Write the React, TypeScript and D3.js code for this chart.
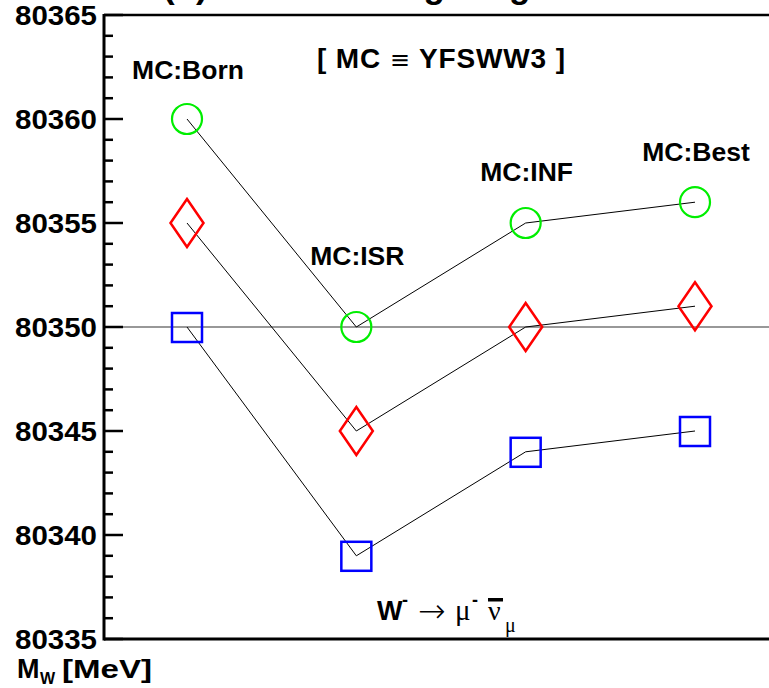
import React from "react";
import * as d3 from "d3";

const categories = ["MC:Born", "MC:ISR", "MC:INF", "MC:Best"];
const circleSeries = [80360, 80350, 80355, 80356];
const diamondSeries = [80355, 80345, 80350, 80351];
const squareSeries = [80350, 80339, 80344, 80345];
const yTicksMajor = [80335, 80340, 80345, 80350, 80355, 80360, 80365];
const labelValues = [80361.9, 80353.0, 80357.0, 80358.0];
const refValue = 80350;

const W = 769;
const H = 688;
const FONT = "'Liberation Sans', Arial, Helvetica, sans-serif";
const SERIF = "'Liberation Serif', 'Times New Roman', serif";

export default function App() {
  const y = d3.scaleLinear().domain([80335, 80365]).range([639, 15]);
  const x = d3.scaleLinear().domain([0, 3]).range([187, 695]);
  const axisX = 104;
  const rightEdge = 790;
  const minorTicks = d3.range(80335, 80366, 1).filter((v) => v % 5 !== 0);
  const line = d3
    .line<number>()
    .x((_, i) => x(i))
    .y((d) => y(d));
  const diamond = (cx: number, cy: number) =>
    `M${cx},${cy - 24}L${cx + 16.5},${cy}L${cx},${cy + 24}L${cx - 16.5},${cy}Z`;

  return (
    <svg
      width={W}
      height={H}
      style={{ position: "absolute", left: 0, top: 0, background: "#fff" }}
      fontFamily={FONT}
    >
      <rect x={0} y={0} width={W} height={H} fill="#fff" />
      {/* title, cut off at the top edge as in the reference */}
      <text x={163} y={-2} fontSize={35} fontWeight="bold" fill="#000">
        (b) Effect of weighting
      </text>

      {/* reference line */}
      <line x1={axisX} x2={rightEdge} y1={y(refValue)} y2={y(refValue)} stroke="#333" strokeWidth={1.2} />

      {/* axes */}
      <line x1={axisX} x2={rightEdge} y1={y(80365)} y2={y(80365)} stroke="#000" strokeWidth={2.5} />
      <line x1={axisX} x2={rightEdge} y1={y(80335)} y2={y(80335)} stroke="#000" strokeWidth={3} />
      <line x1={axisX} x2={axisX} y1={y(80365) - 1} y2={y(80335) + 1.5} stroke="#000" strokeWidth={3} />
      {yTicksMajor.map((v) => (
        <line key={"M" + v} x1={axisX} x2={axisX + 19} y1={y(v)} y2={y(v)} stroke="#000" strokeWidth={2.5} />
      ))}
      {minorTicks.map((v) => (
        <line key={"m" + v} x1={axisX} x2={axisX + 9} y1={y(v)} y2={y(v)} stroke="#000" strokeWidth={2.5} />
      ))}
      {yTicksMajor.map((v) => (
        <text
          key={"t" + v}
          x={97}
          y={y(v)}
          dy="0.36em"
          textAnchor="end"
          fontSize={28}
          fontWeight="bold"
          textLength={82}
          lengthAdjust="spacingAndGlyphs"
        >
          {v}
        </text>
      ))}

      {/* connecting lines */}
      {[circleSeries, diamondSeries, squareSeries].map((s, k) => (
        <path key={"l" + k} d={line(s) || ""} fill="none" stroke="#000" strokeWidth={1} />
      ))}

      {/* markers */}
      {circleSeries.map((v, i) => (
        <circle key={"c" + i} cx={x(i)} cy={y(v)} r={15} fill="none" stroke="#00ee00" strokeWidth={2.2} />
      ))}
      {diamondSeries.map((v, i) => (
        <path key={"d" + i} d={diamond(x(i), y(v))} fill="none" stroke="#ff0000" strokeWidth={2.5} />
      ))}
      {squareSeries.map((v, i) => (
        <rect
          key={"s" + i}
          x={x(i) - 15}
          y={y(v) - 14}
          width={30}
          height={29}
          fill="none"
          stroke="#0000ff"
          strokeWidth={2.5}
        />
      ))}

      {/* category labels */}
      {categories.map((c, i) => (
        <text key={"cat" + i} x={x(i) + 1} y={y(labelValues[i])} textAnchor="middle" fontSize={26.5} fontWeight="bold">
          {c}
        </text>
      ))}

      {/* MC identity */}
      <text x={441} y={68} textAnchor="middle" fontSize={28} fontWeight="bold" textLength={248} lengthAdjust="spacing">
        {"[ MC "}
        <tspan fontWeight="normal" fontFamily="'DejaVu Sans', sans-serif" fontSize={24}>≡</tspan>
        {" YFSWW3 ]"}
      </text>

      {/* decay channel */}
      <text x={377} y={620} fontSize={27} fontWeight="bold">W</text>
      <text x={402} y={606} fontSize={18} fontWeight="bold">-</text>
      <text x={418} y={622} fontSize={33} fontFamily="'DejaVu Sans', sans-serif" fontWeight={200}>→</text>
      <text x={455} y={620} fontSize={29} fontFamily={SERIF}>μ</text>
      <text x={472} y={606} fontSize={18} fontWeight="bold">-</text>
      <text x={488} y={620} fontSize={28} fontFamily={SERIF}>ν</text>
      <rect x={488} y={598} width={15} height={3.5} fill="#000" />
      <text x={505} y={632} fontSize={20} fontFamily={SERIF}>μ</text>

      {/* y axis title */}
      <text x={17} y={678} fontSize={27} fontWeight="bold">M</text>
      <text x={40} y={684} fontSize={16} fontWeight="bold">W</text>
      <text x={62} y={678} fontSize={26} fontWeight="bold" textLength={90} lengthAdjust="spacingAndGlyphs">[MeV]</text>
    </svg>
  );
}
